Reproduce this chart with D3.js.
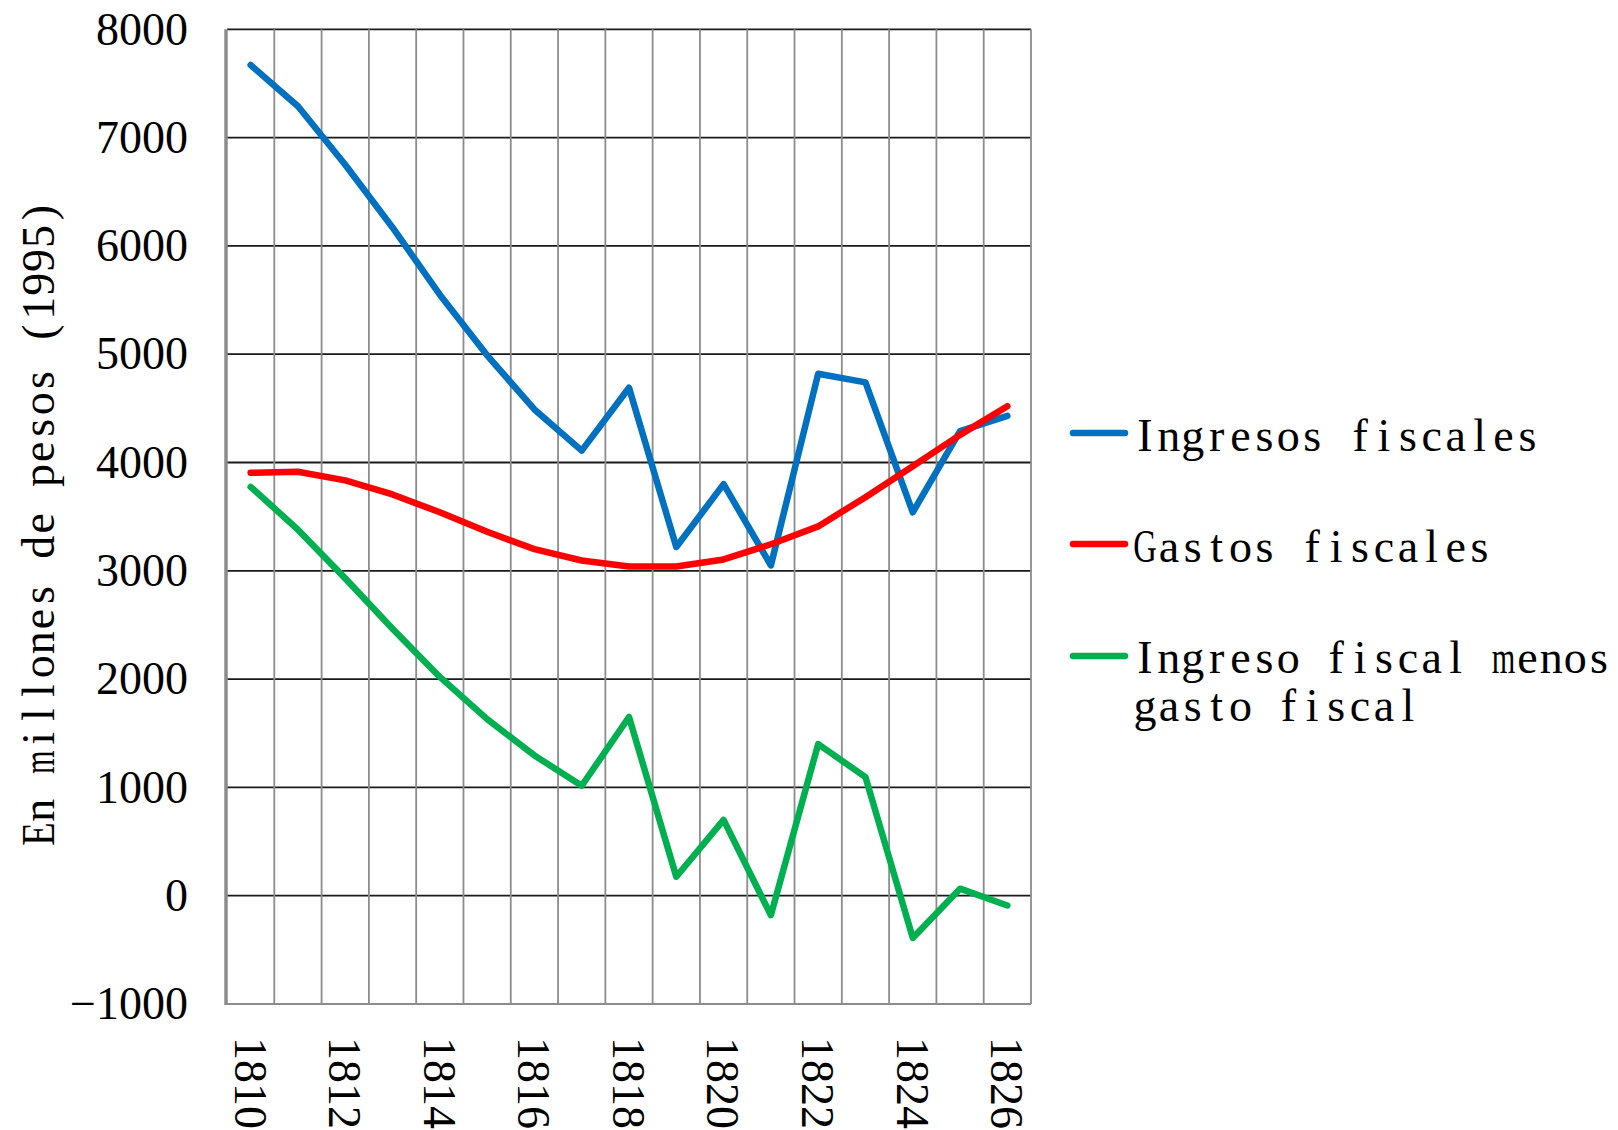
<!DOCTYPE html>
<html>
<head>
<meta charset="utf-8">
<script src="https://cdn.jsdelivr.net/npm/d3@7"></script>
<style>
  html, body { margin: 0; padding: 0; background: #ffffff; }
  svg { display: block; }
</style>
</head>
<body>
<svg id="chart" width="1618" height="1130"></svg>
<script>
const years = [1810,1811,1812,1813,1814,1815,1816,1817,1818,1819,1820,1821,1822,1823,1824,1825,1826];
const ingresos = [7670,7290,6750,6170,5550,4990,4490,4110,4690,3220,3800,3050,4820,4740,3540,4290,4430];
const gastos   = [3905,3915,3835,3705,3540,3360,3200,3095,3040,3040,3105,3245,3410,3680,3965,4255,4520];
const diferencia = [3775,3380,2930,2465,2020,1630,1295,1015,1650,175,700,-180,1400,1095,-390,65,-90];
const yTicks = [-1000,0,1000,2000,3000,4000,5000,6000,7000,8000];
const xLabelYears = [1810,1812,1814,1816,1818,1820,1822,1824,1826];
const seriesNames = ["Ingresos fiscales","Gastos fiscales","Ingreso fiscal menos gasto fiscal"];
const yTitle = "En millones de pesos (1995)";

(function () {
const series = [
  {name: seriesNames[0], values: ingresos, color: "#0070C0"},
  {name: seriesNames[1], values: gastos, color: "#FF0000"},
  {name: seriesNames[2], values: diferencia, color: "#00B050"}
];

const svg = d3.select("#chart");
const pLeft = 227, pRight = 1031, pTop = 29.3, pBottom = 1004;
const serif = "'Liberation Serif', 'Times New Roman', serif";

const x = d3.scaleBand().domain(years).range([pLeft, pRight]).padding(0);
const y = d3.scaleLinear().domain([-1000, 8000]).range([pBottom, pTop]);

// horizontal gridlines
svg.append("g").selectAll("line")
  .data(yTicks.filter(d => d > -1000))
  .join("line")
  .attr("x1", pLeft).attr("x2", pRight)
  .attr("y1", d => y(d)).attr("y2", d => y(d))
  .attr("stroke", "#1a1a1a").attr("stroke-width", 1.8);

// vertical gridlines at band boundaries
svg.append("g").selectAll("line")
  .data(years.slice(1).concat(["end"]))
  .join("line")
  .attr("x1", d => d === "end" ? pRight : x(d))
  .attr("x2", d => d === "end" ? pRight : x(d))
  .attr("y1", pTop).attr("y2", pBottom)
  .attr("stroke", "#8c8c8c").attr("stroke-width", 1.8);

// bottom axis line
svg.append("line")
  .attr("x1", pLeft).attr("x2", pRight)
  .attr("y1", pBottom).attr("y2", pBottom)
  .attr("stroke", "#8c8c8c").attr("stroke-width", 2.2);

// left axis line
svg.append("line")
  .attr("x1", pLeft - 1).attr("x2", pLeft - 1)
  .attr("y1", pTop).attr("y2", pBottom + 1)
  .attr("stroke", "#8c8c8c").attr("stroke-width", 3.5);

// y axis labels
const fmt = d3.format("d");
const yAxis = svg.append("g")
  .attr("transform", `translate(${pLeft},0)`)
  .call(d3.axisLeft(y).tickValues(yTicks).tickSize(0).tickPadding(39).tickFormat(fmt));
yAxis.select(".domain").remove();
yAxis.selectAll("text")
  .attr("font-family", serif)
  .attr("font-size", 46)
  .attr("fill", "#000");

// x axis labels (rotated)
const xAxis = svg.append("g")
  .attr("transform", `translate(0,${pBottom})`)
  .call(d3.axisBottom(x).tickValues(xLabelYears).tickSize(0).tickFormat(d => String(d)));
xAxis.select(".domain").remove();
xAxis.selectAll("text")
  .attr("transform", "rotate(90)")
  .attr("x", 33).attr("y", 0).attr("dy", "0.35em")
  .style("text-anchor", "start")
  .attr("font-family", serif)
  .attr("font-size", 46)
  .attr("fill", "#000");

// lines
const line = d3.line()
  .x((d, i) => x(years[i]) + x.bandwidth() / 2)
  .y(d => y(d));

svg.append("g").selectAll("path")
  .data(series)
  .join("path")
  .attr("d", d => line(d.values))
  .attr("fill", "none")
  .attr("stroke", d => d.color)
  .attr("stroke-width", 6.5)
  .attr("stroke-linejoin", "round")
  .attr("stroke-linecap", "round");

// monospaced-cell serif text (imitates a CJK font's half-width Latin)
const tmp = svg.append("text").attr("font-family", serif).attr("visibility", "hidden");
function monoText(parent, str, x0, yBase, cell, size, maxW) {
  tmp.attr("font-size", size);
  const t = parent.append("text")
    .attr("y", yBase)
    .attr("font-family", serif)
    .attr("font-size", size)
    .attr("fill", "#000")
    .style("white-space", "pre");
  [...str].forEach((ch, i) => {
    tmp.text(ch === " " ? "\u00a0" : ch);
    const w = tmp.node().getComputedTextLength();
    const w2 = Math.min(w, maxW);
    const ts = t.append("tspan")
      .attr("x", x0 + i * cell + (cell - w2) / 2)
      .text(ch);
    if (w > maxW && ch !== " ") {
      ts.attr("textLength", w2).attr("lengthAdjust", "spacingAndGlyphs");
    }
  });
}

// y title
const tg = svg.append("g").attr("transform", "translate(54,846) rotate(-90)");
monoText(tg, yTitle, 0, 0, 23.9, 46, 23.5);

// legend
const legendItems = [
  {s: series[0], ly: 433, base: 451, lines: ["Ingresos fiscales"]},
  {s: series[1], ly: 544, base: 562, lines: ["Gastos fiscales"]},
  {s: series[2], ly: 656, base: 673, lines: ["Ingreso fiscal menos", "gasto fiscal"]}
];
const lg = svg.append("g");
legendItems.forEach(item => {
  lg.append("line")
    .attr("x1", 1073).attr("x2", 1125)
    .attr("y1", item.ly).attr("y2", item.ly)
    .attr("stroke", item.s.color).attr("stroke-width", 6.5)
    .attr("stroke-linecap", "round");
  item.lines.forEach((ln, i) => {
    monoText(lg, ln, 1133, item.base + i * 48, 23.9, 46, 23.5);
  });
});
tmp.remove();
})();
</script>
</body>
</html>
